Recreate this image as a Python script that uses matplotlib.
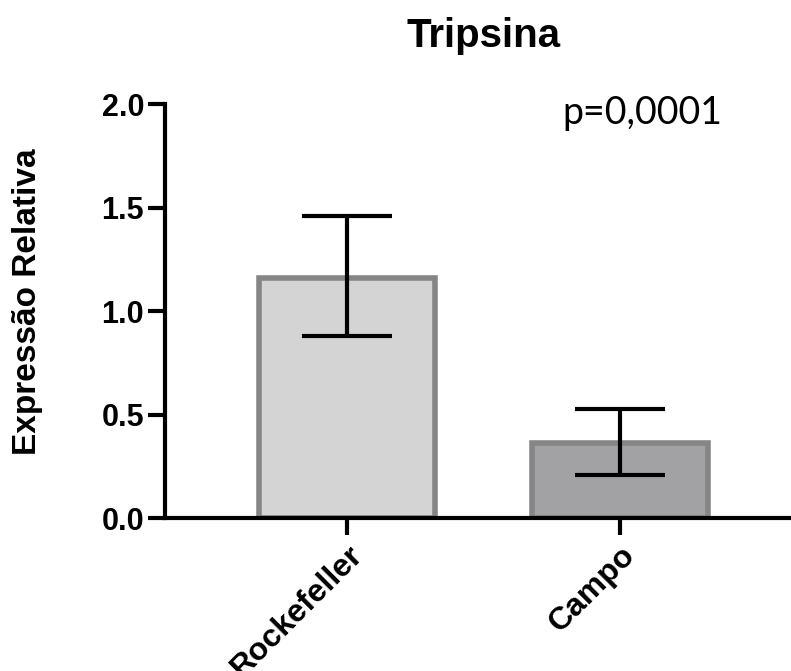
import matplotlib.pyplot as plt


plt.rcParams['font.family'] = 'Liberation Sans'
plt.rcParams['font.weight'] = 'bold'

groups = ['Rockefeller', 'Campo']
means  = [1.16, 0.36]
lower  = [0.88, 0.21]
upper  = [1.46, 0.525]
fills  = ['#d4d4d4', '#a2a2a4']
yticks = [0.0, 0.5, 1.0, 1.5, 2.0]


def plot():
    fig = plt.figure(figsize=(7.91, 6.71), dpi=100)
    ax = fig.add_axes([0.2086, 0.228, 0.85, 0.617])

    x = range(len(groups))
    err = [[m - lo for m, lo in zip(means, lower)],
           [hi - m for m, hi in zip(means, upper)]]
    ax.bar(x, means, width=0.645, color=fills, edgecolor='#858585', linewidth=4, zorder=2)
    ax.errorbar(x, means, yerr=err, fmt='none', ecolor='black',
                elinewidth=3, capsize=32.5, capthick=3, zorder=3)

    ax.set_xlim(-0.667, 1.795)
    ax.set_ylim(0, 2.0)
    ax.set_yticks(yticks)
    ax.set_yticklabels([f'{v:.1f}' for v in yticks], fontsize=22, fontweight='bold')
    ax.set_xticks(list(x))
    ax.set_xticklabels(groups, rotation=45, ha='right', rotation_mode='anchor',
                       fontsize=23, fontweight='bold')

    for s in ['top', 'right']:
        ax.spines[s].set_visible(False)
    for s in ['left', 'bottom']:
        ax.spines[s].set_linewidth(3)
    ax.tick_params(width=3, length=12)
    ax.tick_params(axis='y', pad=3)
    ax.tick_params(axis='x', pad=4)

    fig.text(28 / 791, 1 - 302 / 671, 'Expressão Relativa', rotation=90,
             ha='center', va='center', fontsize=24, fontweight='bold')
    fig.text(0.611, 0.946, 'Tripsina', ha='center', va='center',
             fontsize=29, fontweight='bold')
    fig.text(0.812, 0.832, 'p=0,0001', ha='center', va='center',
             fontsize=27, fontweight='normal', family='Lato')

    fig.savefig('out.png', dpi=100)


plot()
